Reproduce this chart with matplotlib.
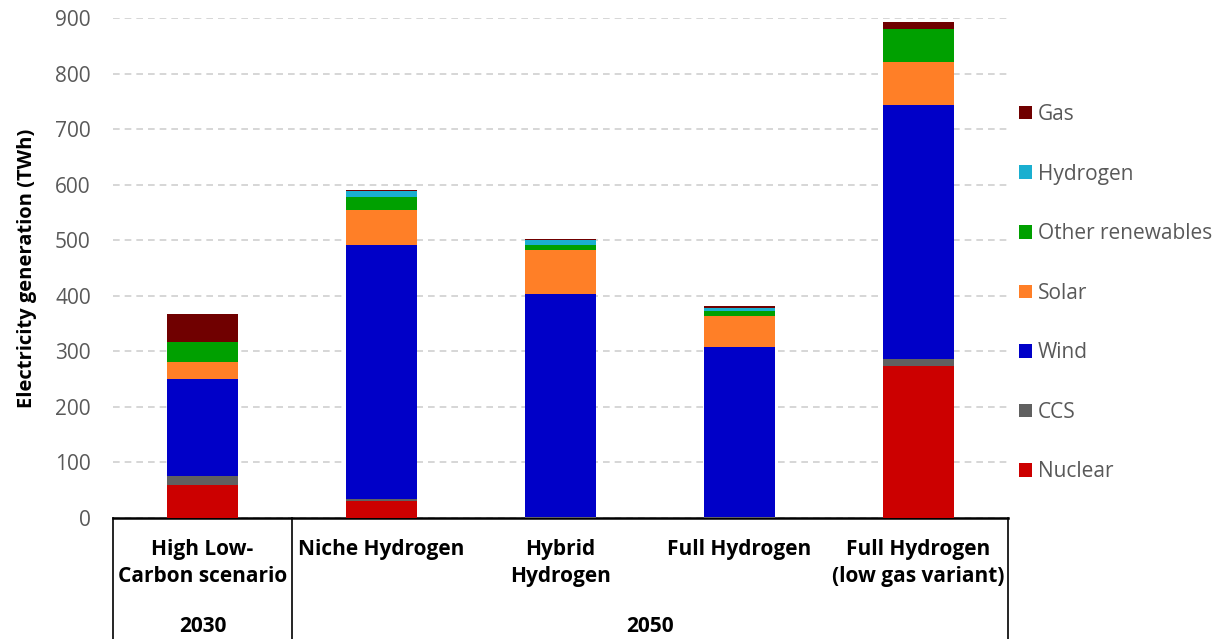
import matplotlib
matplotlib.use("Agg")
import matplotlib.pyplot as plt
from matplotlib.patches import Patch
import numpy as np

plt.rcParams['font.family'] = ['Open Sans', 'DejaVu Sans']

categories = ["High Low-\nCarbon scenario", "Niche Hydrogen", "Hybrid\nHydrogen",
              "Full Hydrogen", "Full Hydrogen\n(low gas variant)"]
years = ["2030", "2050"]
year_groups = [(0, 0), (1, 4)]

series_names = ["Nuclear", "CCS", "Wind", "Solar", "Other renewables", "Hydrogen", "Gas"]
nuclear = [59, 30, 0, 0, 274]
ccs = [16, 4, 1, 1, 12]
wind = [175, 457, 403, 306, 457]
solar = [30, 63, 78, 57, 78]
other_ren = [36, 23, 9, 9, 60]
hydrogen = [0, 12, 9, 5, 0]
gas = [51, 2, 3, 3, 12]
series_values = [nuclear, ccs, wind, solar, other_ren, hydrogen, gas]
colors = ["#CC0000", "#606060", "#0000C8", "#FF7F27", "#00A000", "#1AAFD0", "#700000"]

yticks = list(range(0, 1000, 100))

fig = plt.figure(figsize=(12.24, 6.39), dpi=100)
ax = fig.add_axes([0.0923, 0.1894, 0.7312, 0.7824])

x = np.arange(len(categories))
bottom = np.zeros(len(categories))
for name, vals, col in zip(series_names, series_values, colors):
    ax.bar(x, vals, width=0.40, bottom=bottom, color=col, label=name, zorder=3)
    bottom += np.array(vals)

ax.set_xlim(-0.5, len(categories) - 0.5)
ax.set_ylim(0, 900)
ax.set_yticks(yticks)
ax.set_yticklabels([str(t) for t in yticks], fontsize=15, color="#595959")
ax.tick_params(axis='y', length=0, pad=16)
ax.set_xticks([])
ax.yaxis.grid(True, linestyle=(0, (4, 3)), color="#D0D0D0", linewidth=1.2, zorder=0)
for s in ["left", "right", "top"]:
    ax.spines[s].set_visible(False)
ax.spines["bottom"].set_linewidth(1.8)
ax.spines["bottom"].set_color("black")
ax.set_ylabel("Electricity generation (TWh)", fontsize=14.5, fontweight="bold", labelpad=13)

# table-style category axis
trans = ax.get_xaxis_transform()
px = 0.72  # points per pixel at 100 dpi
for xv in [-0.5, 0.5, len(categories) - 0.5]:
    ax.plot([xv, xv], [0, -0.3], transform=trans, color="black", linewidth=1.2, clip_on=False)
for i, lab in enumerate(categories):
    for j, line in enumerate(lab.split("\n")):
        ax.annotate(line, xy=(i, 0), xycoords=trans, xytext=(0, -(32 + 27 * j) * px),
                    textcoords="offset points", ha="center", va="center",
                    fontsize=15, fontweight="bold", color="black", annotation_clip=False)
for yr, (a, b) in zip(years, year_groups):
    ax.annotate(yr, xy=((a + b) / 2, 0), xycoords=trans, xytext=(0, -109 * px),
                textcoords="offset points", ha="center", va="center",
                fontsize=15, fontweight="bold", color="black", annotation_clip=False)

handles = [Patch(facecolor=c, label=n) for n, c in zip(series_names, colors)][::-1]
leg = fig.legend(handles=handles, loc="upper left", bbox_to_anchor=(1019 / 1224, 1 - 104 / 639),
                 frameon=False, fontsize=15, handlelength=0.62, handleheight=0.62,
                 handletextpad=0.3, labelspacing=1.85, labelcolor="#595959",
                 borderpad=0, borderaxespad=0)

fig.savefig("out.png", dpi=100)
